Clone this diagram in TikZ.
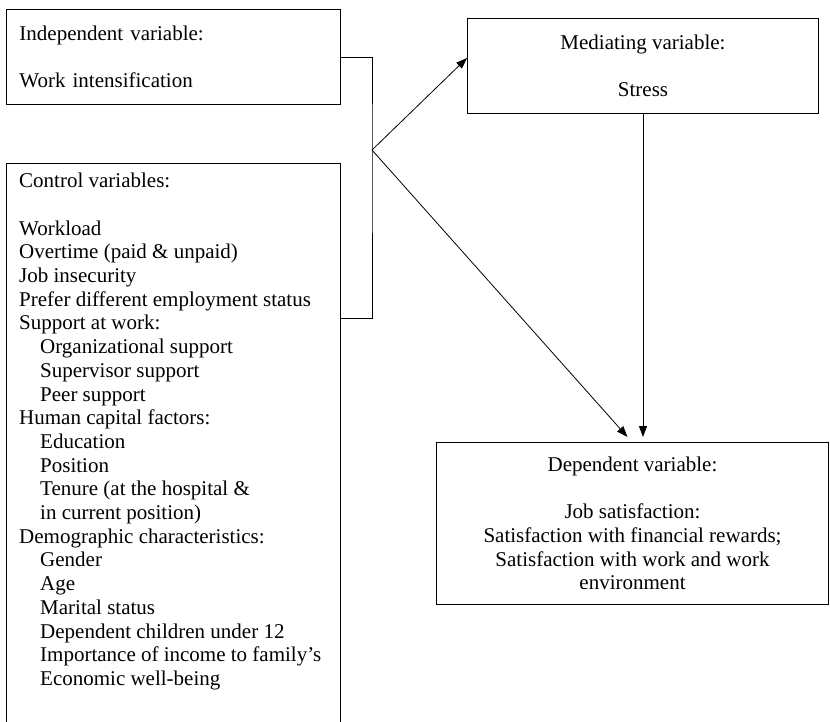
\documentclass[tikz,border=0pt]{standalone}
\usepackage{fontspec}
\setmainfont{Liberation Serif}
\usetikzlibrary{positioning,arrows.meta}

\begin{document}
\begin{tikzpicture}[x=1pt, y=-1pt,
  box/.style={draw, line width=1pt, rectangle, align=center, inner sep=0pt, font=\fontsize{21}{23.7}\selectfont},
  list/.style={align=left, inner xsep=13pt, inner ysep=10pt, font=\fontsize{21}{23.7}\selectfont},
  link/.style={line width=0.8pt},
  arr/.style={link, -{Triangle[length=11pt,width=8pt]}}]
  \useasboundingbox (0,0) rectangle (830,721);
  % Boxes
  \node[box, anchor=north west, align=left, inner xsep=13pt, text width=308, minimum height=95] (Indep) at (6,9) {Independent variable:\\[23.7pt]Work intensification};
  \node[box, anchor=north west, minimum width=351, minimum height=95] (Med) at (467,18) {Mediating variable:\\[23.7pt]Stress};
  \node[box, anchor=north west, minimum width=392, minimum height=162] (Dep) at (436,442) {Dependent variable:\\[23.7pt]Job satisfaction:\\Satisfaction with financial rewards;\\Satisfaction with work and work\\environment};
  \node[box, anchor=north west, minimum width=334, minimum height=565] (Ctrl) at (6,163) {};
  \node[list, anchor=north west] (CtrlText) at (Ctrl.north west) {Control variables:\\[23.7pt]Workload\\Overtime (paid \& unpaid)\\Job insecurity\\Prefer different employment status\\Support at work:\\
    \hspace*{1em}Organizational support\\\hspace*{1em}Supervisor support\\\hspace*{1em}Peer support\\Human capital factors:\\
    \hspace*{1em}Education\\\hspace*{1em}Position\\\hspace*{1em}Tenure (at the hospital \&\\\hspace*{1em}in current position)\\Demographic characteristics:\\
    \hspace*{1em}Gender\\\hspace*{1em}Age\\\hspace*{1em}Marital status\\\hspace*{1em}Dependent children under 12\\\hspace*{1em}Importance of income to family’s\\\hspace*{1em}Economic well-being};

  % Links
  \coordinate (Join) at (372,150);
  \coordinate (CtrlTie) at ([yshift=-155pt]Ctrl.north east);
  \draw[link] (Indep.east) -| (Join) |- (CtrlTie);
  \draw[arr] (Join) -- ([yshift=8pt]Med.west);
  \draw[arr] (Join) -- ([xshift=-5pt,yshift=5pt]Dep.north);
  \draw[arr] (Med.south) -- ([yshift=5pt]Med.south |- Dep.north);
\end{tikzpicture}
\end{document}
